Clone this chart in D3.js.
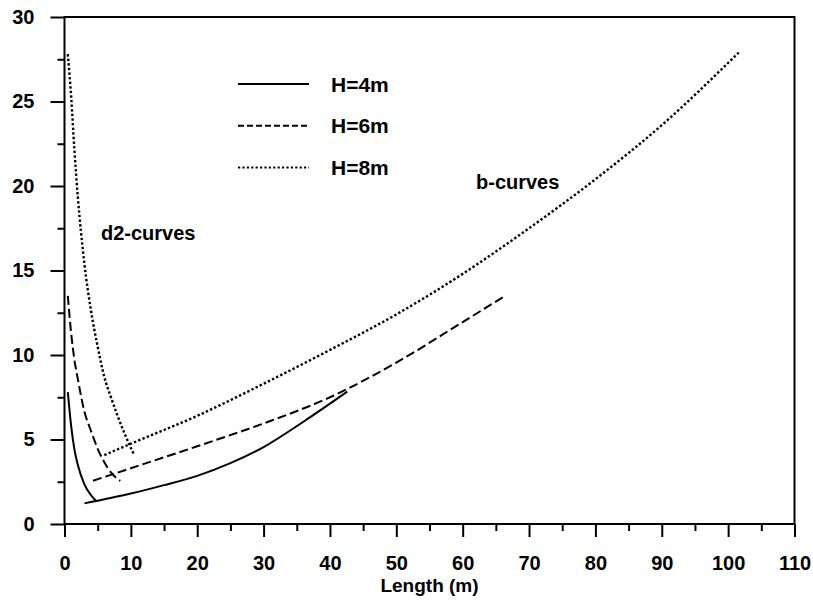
<!DOCTYPE html>
<html>
<head>
<meta charset="utf-8">
<script src="https://cdn.jsdelivr.net/npm/d3@7/dist/d3.min.js"></script>
<style>
  html, body { margin: 0; padding: 0; background: #fff; }
  svg { display: block; }
  text { font-family: "Liberation Sans", Arial, Helvetica, sans-serif; font-weight: bold; fill: #000; }
</style>
</head>
<body>
<svg id="chart" width="813" height="603"></svg>
<script>
// Tick values
const xMajorTicks = [0, 10, 20, 30, 40, 50, 60, 70, 80, 90, 100, 110];
const xMinorTicks = [5, 15, 25, 35, 45, 55, 65, 75, 85, 95, 105];
const yMajorTicks = [0, 5, 10, 15, 20, 25, 30];
const yMinorTicks = [2.5, 7.5, 12.5, 17.5, 22.5, 27.5];

// Legend entries
const heights = ["H=4m", "H=6m", "H=8m"];

// d2-curves (length in m, value)
const d2Length4 = [0.5, 1, 1.5, 2, 3, 4, 4.8];
const d2Value4  = [7.8, 5.8, 4.4, 3.5, 2.35, 1.7, 1.35];
const d2Length6 = [0.5, 1, 1.5, 2, 3, 4, 5, 6, 7, 8.4];
const d2Value6  = [13.5, 11.3, 9.7, 8.6, 6.65, 5.5, 4.45, 3.65, 3.05, 2.55];
const d2Length8 = [0.5, 1, 1.5, 2, 3, 4, 5, 6, 7, 8, 9, 10.5];
const d2Value8  = [27.8, 25.3, 22.1, 19.4, 15.4, 12.6, 10.5, 8.7, 7.5, 6.4, 5.4, 4.08];

// b-curves (length in m, value)
const bLength4 = [3, 10, 15, 20, 25, 30, 36, 42.6];
const bValue4  = [1.22, 1.8, 2.3, 2.85, 3.6, 4.55, 6.05, 7.83];
const bLength6 = [4.3, 10, 20, 30, 40, 50, 60, 66.4];
const bValue6  = [2.56, 3.3, 4.6, 5.95, 7.5, 9.55, 11.95, 13.5];
const bLength8 = [6, 10, 20, 30, 40, 50, 60, 70, 80, 90, 101.6];
const bValue8  = [4.08, 4.75, 6.4, 8.3, 10.3, 12.4, 14.8, 17.5, 20.4, 23.6, 27.9];

const svg = d3.select("#chart");
const plotLeft = 64.5, plotRight = 794.5, plotTop = 17, plotBottom = 524;

const x = d3.scaleLinear().domain([0, 110]).range([plotLeft, plotRight]);
const y = d3.scaleLinear().domain([0, 30]).range([plotBottom, plotTop]);

// Line styles per height
const styles = [
  { width: 2, dash: null, legendDash: null },
  { width: 2, dash: "9,4", legendDash: "6,3" },
  { width: 2.4, dash: "2.4,2.2", legendDash: "2.2,2.2" }
];

// Axes with major and minor ticks
function styleAxis(g) {
  g.select(".domain").remove();
  g.selectAll(".tick line").attr("stroke", "#000").attr("stroke-width", 2);
  g.selectAll(".tick text").style("font-size", "20px").attr("fill", "#000");
}

svg.append("g")
  .attr("transform", `translate(0,${plotBottom})`)
  .call(d3.axisBottom(x).tickValues(xMajorTicks).tickSize(13).tickPadding(19).tickFormat(d3.format("d")))
  .call(styleAxis);
svg.append("g")
  .attr("transform", `translate(0,${plotBottom})`)
  .call(d3.axisBottom(x).tickValues(xMinorTicks).tickSize(7).tickFormat(""))
  .call(styleAxis);

svg.append("g")
  .attr("transform", `translate(${plotLeft},0)`)
  .call(d3.axisLeft(y).tickValues(yMajorTicks).tickSize(14).tickPadding(16).tickFormat(d3.format("d")))
  .call(styleAxis);
svg.append("g")
  .attr("transform", `translate(${plotLeft},0)`)
  .call(d3.axisLeft(y).tickValues(yMinorTicks).tickSize(7).tickFormat(""))
  .call(styleAxis);

// Frame
svg.append("rect")
  .attr("x", x(0)).attr("y", y(30))
  .attr("width", x(110) - x(0)).attr("height", y(0) - y(30))
  .attr("fill", "none").attr("stroke", "#000").attr("stroke-width", 2);

// Curves
const line = d3.line()
  .x(d => x(d[0]))
  .y(d => y(d[1]))
  .curve(d3.curveMonotoneX);

const series = [
  { lens: d2Length4, vals: d2Value4, s: 0 },
  { lens: bLength4, vals: bValue4, s: 0 },
  { lens: d2Length6, vals: d2Value6, s: 1 },
  { lens: bLength6, vals: bValue6, s: 1 },
  { lens: d2Length8, vals: d2Value8, s: 2 },
  { lens: bLength8, vals: bValue8, s: 2 }
];

series.forEach(sr => {
  const pts = sr.lens.map((l, i) => [l, sr.vals[i]]);
  svg.append("path")
    .attr("d", line(pts))
    .attr("fill", "none")
    .attr("stroke", "#000")
    .attr("stroke-width", styles[sr.s].width)
    .attr("stroke-dasharray", styles[sr.s].dash);
});

// Legend
const legend = svg.append("g");
heights.forEach((h, i) => {
  const ly = 84 + i * 41.7;
  legend.append("line")
    .attr("x1", 238).attr("x2", 309)
    .attr("y1", ly).attr("y2", ly)
    .attr("stroke", "#000").attr("stroke-width", 2)
    .attr("stroke-dasharray", styles[i].legendDash);
  legend.append("text")
    .attr("x", 331).attr("y", ly + 7.5)
    .style("font-size", "21px")
    .text(h);
});

// Curve family labels
svg.append("text").attr("x", 101).attr("y", 240).style("font-size", "20px").text("d2-curves");
svg.append("text").attr("x", 476).attr("y", 189).style("font-size", "20px").text("b-curves");

// Axis title
svg.append("text")
  .attr("x", (plotLeft + plotRight) / 2).attr("y", 592)
  .attr("text-anchor", "middle")
  .style("font-size", "19px")
  .text("Length (m)");
</script>
</body>
</html>
